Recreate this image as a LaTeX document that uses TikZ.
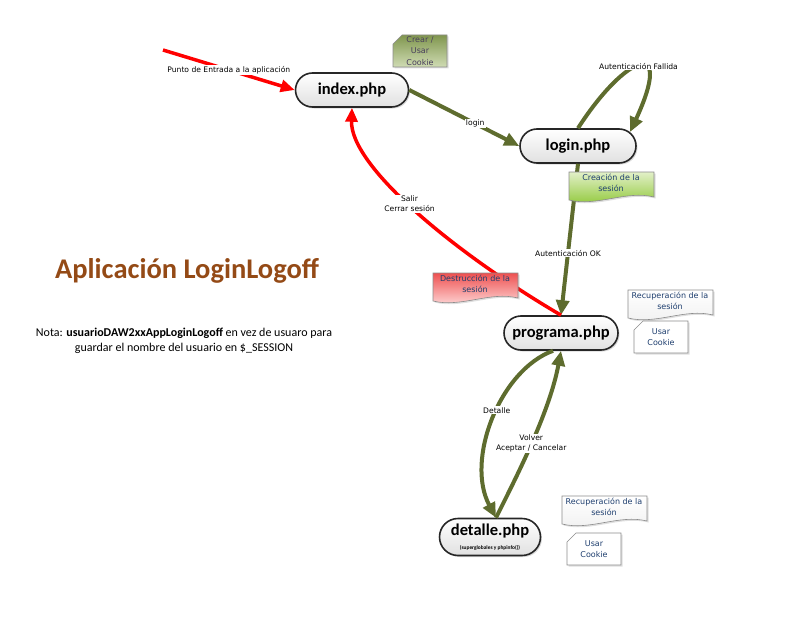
\documentclass[tikz,border=0pt]{standalone}
\usepackage{fontspec}
\setmainfont{Carlito}
\newfontfamily\labelfont{DejaVu Sans}
\usetikzlibrary{arrows.meta,shapes.misc,shadows}
\definecolor{arrowgreen}{RGB}{94,108,46}
\definecolor{titlebrown}{RGB}{148,74,22}
\definecolor{cardblue}{RGB}{31,63,111}
\definecolor{cookiegray}{RGB}{72,62,92}
\definecolor{olivetop}{RGB}{128,150,78}
\definecolor{olivebottom}{RGB}{208,220,180}
\definecolor{limetop}{RGB}{226,240,200}
\definecolor{limebottom}{RGB}{140,198,50}
\definecolor{redtop}{RGB}{238,80,80}
\definecolor{redbottom}{RGB}{255,226,226}
\newcommand{\wavecard}[5]{% name, centre, text, top, bottom
  \path[cardframe, top color=#4, bottom color=#5]
    (#2)++(-42,-14)--++(85,0)--++(0,25)
    .. controls +(-28,-7) and +(28,7) .. ++(-85,3)--cycle;
  \node[cardtext] (#1) at ([yshift=3pt]#2) {#3};}
\newcommand{\cookiecard}[5]{% name, centre, text, top, bottom
  \path[cardframe, top color=#4, bottom color=#5]
    (#2)++(-18,-16)--++(45,0)--++(0,32)--++(-54,0)--++(0,-23)--cycle;
  \node[cardtext] (#1) at (#2) {#3};}

\begin{document}
\begin{tikzpicture}[x=1pt,y=-1pt,
    pill/.style={rounded rectangle, draw=black!85, line width=1.6pt,
        top color=white, bottom color=black!12,
        drop shadow={opacity=.3,shadow xshift=1.5pt,shadow yshift=-1.5pt},
        font=\bfseries\fontsize{16.5}{18}\selectfont, minimum height=34pt, inner sep=2pt},
    lbl/.style={font=\labelfont\fontsize{7.6}{10}\selectfont, fill=white, inner sep=1pt, align=center},
    greenarrow/.style={draw=arrowgreen, line width=4pt, -{Triangle[length=15pt,width=13pt]}},
    redarrow/.style={draw=red, line width=3.5pt, -{Triangle[length=14pt,width=12pt]}},
    cardframe/.style={draw=black!45, line width=.6pt,
        drop shadow={opacity=.25,shadow xshift=1.5pt,shadow yshift=-1.5pt}},
    cardtext/.style={font=\labelfont\fontsize{8}{11.5}\selectfont, text=cardblue, align=center, inner sep=0pt}]
\useasboundingbox (0,0) rectangle (787,618);
\node[pill, minimum width=117pt] (index) at (352,90) {index.php};
\node[pill, minimum width=120pt] (login) at (578,146) {login.php};
\node[pill, minimum width=118pt] (programa) at (561,333) {programa.php};
\node[pill, minimum width=105pt, minimum height=37pt, align=center] (detalle) at (490,537)
    {detalle.php\\[-4pt]{\fontsize{5.4}{6}\selectfont (superglobales y phpinfo())}};
\coordinate (entry) at (163,50);
\coordinate (dtop) at ([xshift=6pt]detalle.north);
\coordinate (pbottom) at ([xshift=-8pt]programa.south);
\draw[redarrow]
    (entry)--node[lbl]{Punto de Entrada a la aplicación}(index.west);
\draw[greenarrow]
    (index.east)--node[lbl,pos=.6]{login}(login.west);
\draw[greenarrow]
    (login.north) .. controls (625,55) and (675,35) .. node[lbl,pos=.5]{Autenticación Fallida}(login.15);
\draw[greenarrow]
    (login.south)--node[lbl,pos=.59]{Autenticación OK}(programa.north);
\draw[redarrow]
    (programa.north) .. controls (450,250) and (350,165) .. node[lbl,pos=.52]{Salir\\Cerrar sesión}(index.south);
\draw[greenarrow]
    (pbottom) .. controls (500,370) and (465,460) .. node[lbl,pos=.45]{Detalle}(dtop);
\draw[greenarrow]
    (dtop) .. controls (520,470) and (550,410) .. node[lbl,pos=.47]{Volver\\Aceptar / Cancelar}(programa.south);
\cookiecard{crear}{420,51}{\textcolor{cookiegray}{Crear /}\\\textcolor{cookiegray}{Usar}\\\textcolor{cookiegray}{Cookie}}{olivetop}{olivebottom}
\wavecard{creacion}{611,186}{Creación de la\\sesión}{limetop}{limebottom}
\wavecard{destruccion}{475,287}{Destrucción de la\\sesión}{redtop}{redbottom}
\wavecard{recuperacion}{670,304}{Recuperación de la\\sesión}{white}{black!6}
\cookiecard{cookie}{661,337}{Usar\\Cookie}{white}{white}
\wavecard{recuperaciondet}{604,510}{Recuperación de la\\sesión}{white}{black!6}
\cookiecard{cookiedet}{594,549}{Usar\\Cookie}{white}{white}
\node[font=\bfseries\fontsize{28.5}{32}\selectfont, text=titlebrown] (title) at (187,271) {Aplicación LoginLogoff};
\node[font=\fontsize{12}{15}\selectfont, align=center] (nota) at (184,341)
    {Nota: \textbf{usuarioDAW2xxAppLoginLogoff} en vez de usuaro para\\guardar el nombre del usuario en \$\_SESSION};
\end{tikzpicture}
\end{document}
